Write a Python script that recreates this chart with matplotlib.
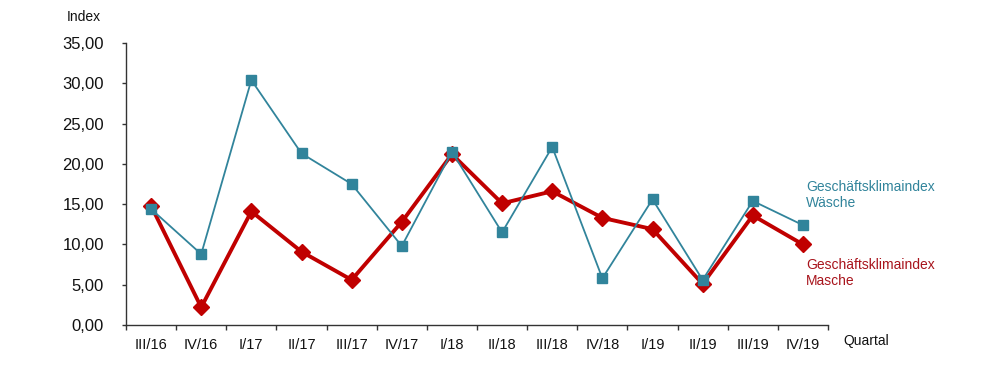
import matplotlib.pyplot as plt
from matplotlib.ticker import FuncFormatter, FixedLocator

plt.rcParams['font.family'] = ['Liberation Sans', 'DejaVu Sans']

quarters = ["III/16", "IV/16", "I/17", "II/17", "III/17", "IV/17", "I/18",
            "II/18", "III/18", "IV/18", "I/19", "II/19", "III/19", "IV/19"]
waesche = [14.4, 8.8, 30.4, 21.3, 17.5, 9.8, 21.5,
           11.5, 22.1, 5.8, 15.6, 5.6, 15.4, 12.4]
masche = [14.8, 2.2, 14.1, 9.1, 5.6, 12.8, 21.2,
          15.1, 16.6, 13.3, 11.9, 5.1, 13.6, 10.0]

blue = "#31849B"
red = "#C00000"

fig = plt.figure(figsize=(10, 3.72), dpi=100)
ax = fig.add_axes([0.126, 0.1263, 0.702, 0.7580])

x = list(range(len(quarters)))
ax.plot(x, masche, color=red, lw=2.8, marker="D", markersize=8.5, zorder=3)
ax.plot(x, waesche, color=blue, lw=1.3, marker="s", markersize=7, zorder=4)

ax.set_xlim(-0.5, len(quarters) - 0.5)
ax.set_ylim(0, 35)
ax.set_yticks([0, 5, 10, 15, 20, 25, 30, 35])
ax.yaxis.set_major_formatter(FuncFormatter(lambda v, p: f"{v:.2f}".replace(".", ",")))

ax.set_xticks(x)
ax.set_xticklabels(quarters)
ax.xaxis.set_minor_locator(FixedLocator([i - 0.5 for i in range(len(quarters) + 1)]))
ax.tick_params(axis="x", which="major", length=0, pad=9, labelsize=10.5, colors="#111111")
ax.tick_params(axis="x", which="minor", length=3.5, width=1, color="#333333")
ax.tick_params(axis="y", length=3, width=1, color="#333333", labelsize=12, pad=13,
               labelcolor="#111111")

for s in ["top", "right"]:
    ax.spines[s].set_visible(False)
for s in ["left", "bottom"]:
    ax.spines[s].set_color("#333333")
    ax.spines[s].set_linewidth(1)

fig.text(0.067, 1 - 17 / 372, "Index", fontsize=10, va="center", ha="left", color="#111111")
fig.text(0.843, 1 - 341 / 372, "Quartal", fontsize=10, va="center", ha="left", color="#111111")

fig.text(0.806, 1 - 180 / 372, "Geschäftsklimaindex\nWäsche", fontsize=10, va="top",
         ha="left", color=blue, linespacing=1.2)
fig.text(0.806, 1 - 258 / 372, "Geschäftsklimaindex\nMasche", fontsize=10, va="top",
         ha="left", color="#A8141C", linespacing=1.2)

fig.savefig("out.png", dpi=100)
